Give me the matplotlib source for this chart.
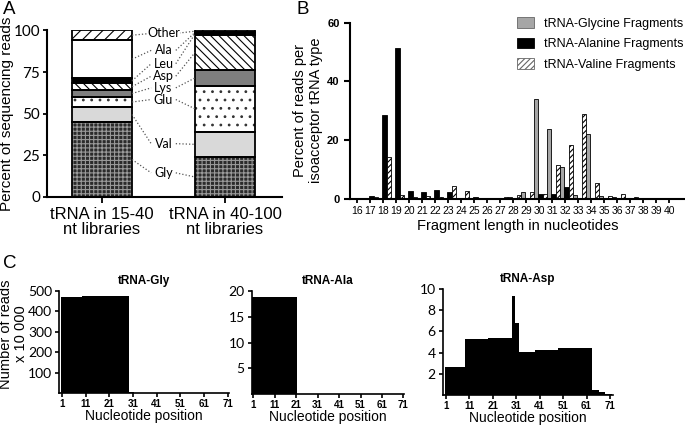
import numpy as np
import matplotlib.pyplot as plt
from matplotlib.patches import Patch

plt.rcParams['font.family'] = ['Liberation Sans', 'DejaVu Sans']
plt.rcParams['hatch.linewidth'] = 0.8

# ---- panel A data: stacked percent per tRNA type ----
groups = ['tRNA in 15-40\nnt libraries', 'tRNA in 40-100\nnt libraries']
trna_types = ['Gly', 'Val', 'Glu', 'Lys', 'Asp', 'Leu', 'Ala', 'Other']
lib_15_40 = [45.0, 9.0, 6.0, 4.2, 4.0, 3.0, 23.0, 5.8]
lib_40_100 = [24.0, 15.2, 27.5, 9.5, 21.0, 1.3, 0.5, 1.0]
label_y = [14.5, 32.0, 58.5, 65.5, 72.5, 80.0, 88.0, 98.2]

# ---- panel B data: fragment length distributions ----
frag_len = list(range(16, 41))
gly_frag = [0, 0, 0, 0, 0, 0, 0.3, 0, 0, 0, 0.3, 0.3, 0.8, 2.3, 34.0, 23.8,
            10.8, 1.2, 22.2, 1.0, 0.5, 0.3, 0.2, 0.1, 0]
ala_frag = [0, 1.0, 28.5, 51.2, 2.6, 2.3, 3.0, 2.5, 0.2, 0.5, 0.2, 0.3, 0.2,
            0.3, 1.8, 1.6, 4.2, 0.3, 0.2, 0.2, 0.1, 0.2, 0.2, 0, 0]
val_frag = [0, 0.7, 14.2, 1.2, 0.6, 1.0, 0.6, 4.3, 2.6, 0.3, 0.3, 0.5, 1.3,
            2.4, 1.6, 11.7, 18.5, 29.0, 5.4, 1.0, 1.6, 0.5, 0.2, 0.1, 0]

# ---- panel C data: read coverage along the tRNA ----
gly_edges = [0.5, 9.5, 29.5, 31.5, 71.5]
gly_reads = [470, 476, 5, 1]
ala_edges = [0.5, 21.5, 71.5]
ala_reads = [18.7, 0.1]
asp_edges = [0.5, 9.0, 19.0, 29.0, 30.4, 32.2, 39.0, 49.0, 63.3, 66.3, 69.0, 72.0]
asp_reads = [2.6, 5.3, 5.4, 9.3, 6.8, 4.1, 4.2, 4.4, 0.45, 0.3, 0.05]

fig = plt.figure(figsize=(6.85, 4.25), dpi=100)


def clean(ax, lw=1.3):
    ax.spines['top'].set_visible(False)
    ax.spines['right'].set_visible(False)
    ax.spines['left'].set_linewidth(lw)
    ax.spines['bottom'].set_linewidth(lw)


# ================= A =================
axA = fig.add_axes([0.0686, 0.5365, 0.343, 0.392])
clean(axA, 1.5)
styles = {
    'Gly': dict(fc='#2b2b2b', hatch='++++', hc='#9a9a9a'),
    'Val': dict(fc='#d9d9d9', hatch=None, hc='k'),
    'Glu': dict(fc='white', hatch='..', hc='#333333'),
    'Lys': dict(fc='#7f7f7f', hatch=None, hc='k'),
    'Asp': dict(fc='white', hatch='\\\\\\\\', hc='k'),
    'Leu': dict(fc='black', hatch=None, hc='k'),
    'Ala': dict(fc='white', hatch=None, hc='k'),
    'Other': dict(fc='white', hatch='///', hc='k'),
}
bw = 0.488
xs = [0, 1]
for xi, vals in zip(xs, [lib_15_40, lib_40_100]):
    bottom = 0
    for name, v in zip(trna_types, vals):
        st = styles[name]
        axA.bar(xi, v, bw, bottom=bottom, color=st['fc'], hatch=st['hatch'],
                edgecolor=st['hc'], linewidth=0, zorder=2)
        axA.bar(xi, v, bw, bottom=bottom, fill=False, edgecolor='black',
                linewidth=1.3, zorder=3)
        bottom += v

# labels with dotted connectors
cum1 = np.cumsum([0] + lib_15_40)
cum2 = np.cumsum([0] + lib_40_100)
lx = 0.5
for i, name in enumerate(trna_types):
    ly = label_y[i]
    axA.text(lx, ly, name, ha='center', va='center', fontsize=9,
             family=['Lato', 'DejaVu Sans'], zorder=5,
             bbox=dict(fc='white', ec='none', pad=0))
    m1 = (cum1[i] + cum1[i + 1]) / 2
    m2 = (cum2[i] + cum2[i + 1]) / 2
    axA.plot([xs[0] + bw / 2, lx - 0.1], [m1, ly], ls=':', color='#555555',
             lw=0.9, zorder=4)
    axA.plot([lx + 0.1, xs[1] - bw / 2], [ly, m2], ls=':', color='#555555',
             lw=0.9, zorder=4)
axA.set_xlim(-0.447, 1.463)
axA.set_ylim(0, 100)
axA.set_yticks([0, 25, 50, 75, 100])
axA.set_xticks(xs)
axA.set_xticklabels(groups, fontsize=12, linespacing=1.05)
axA.tick_params(axis='x', length=4, width=1.3, pad=3)
axA.tick_params(axis='y', length=3, width=1.3, labelsize=11, pad=2)
for t in axA.get_yticklabels():
    t.set_family(['Lato', 'DejaVu Sans'])
axA.set_ylabel('Percent of sequencing reads', fontsize=11)
axA.yaxis.set_label_coords(-0.142, 0.5)

# ================= B =================
axB = fig.add_axes([0.511, 0.532, 0.489, 0.415])
clean(axB, 1.5)
x = np.array(frag_len)
w = 0.33
axB.bar(x - 0.25, gly_frag, w, color='#a6a6a6', edgecolor='black', linewidth=0.6,
        label='tRNA-Glycine Fragments')
axB.bar(x + 0.08, ala_frag, w, color='black', edgecolor='black', linewidth=0.6,
        label='tRNA-Alanine Fragments')
axB.bar(x + 0.41, val_frag, w, color='white', edgecolor='black', linewidth=0.6,
        hatch='//////', label='tRNA-Valine Fragments')
axB.set_xlim(15.44, 41.2)
axB.set_ylim(0, 60)
axB.set_xticks(frag_len)
axB.set_yticks([0, 20, 40, 60])
axB.tick_params(axis='x', labelsize=7.5, length=3, width=1.3, pad=2)
axB.tick_params(axis='y', labelsize=8, length=4, width=1.5)
for t in axB.get_yticklabels():
    t.set_fontweight('bold')
axB.set_xlabel('Fragment length in nucleotides', fontsize=10.5, labelpad=2)
axB.set_ylabel('Percent of reads per\nisoacceptor tRNA type', fontsize=10.5,
               labelpad=3)
handles = [Patch(fc='#a6a6a6', ec='#666666', lw=0.6),
           Patch(fc='black', ec='black', lw=0.6),
           Patch(fc='white', ec='#666666', hatch='//////', lw=0.6)]
axB.legend(handles, ['tRNA-Glycine Fragments', 'tRNA-Alanine Fragments',
                     'tRNA-Valine Fragments'],
           loc='upper right', bbox_to_anchor=(1.03, 1.094), frameon=False,
           fontsize=9, handlelength=1.36, handleheight=0.9, labelspacing=0.65,
           handletextpad=0.8)


# ================= C =================
def cov_panel(rect, edges, vals, title, ymax, yticks, xlim):
    ax = fig.add_axes(rect)
    clean(ax, 1.2)
    ax.stairs(vals, edges, fill=True, color='black', baseline=0)
    ax.set_xlim(*xlim)
    ax.set_ylim(0, ymax)
    ax.set_yticks(yticks)
    ax.set_xticks(range(1, 72, 10))
    ax.tick_params(axis='x', labelsize=7, length=3, width=1.2, pad=1)
    ax.tick_params(axis='y', labelsize=10, length=3, width=1.2, pad=2)
    for t in ax.get_xticklabels():
        t.set_fontweight('bold')
    for t in ax.get_yticklabels():
        t.set_family(['Lato', 'DejaVu Sans'])
    ax.set_title(title, fontsize=8.5, fontweight='bold', pad=5)
    ax.set_xlabel('Nucleotide position', fontsize=10, labelpad=0)
    return ax


axC1 = cov_panel([0.0861, 0.0746, 0.248, 0.2414], gly_edges, gly_reads,
                 'tRNA-Gly', 500, [100, 200, 300, 400, 500], (-0.3, 71.5))
axC1.set_ylabel('Number of reads\nx 10 000', fontsize=10.5, linespacing=1.1)
axC1.yaxis.set_label_coords(-0.18, 0.58)
cov_panel([0.3675, 0.0722, 0.2223, 0.2438], ala_edges, ala_reads,
          'tRNA-Ala', 20, [5, 10, 15, 20], (0.25, 71.3))
cov_panel([0.6463, 0.0706, 0.2486, 0.2494], asp_edges, asp_reads,
          'tRNA-Asp', 10, [2, 4, 6, 8, 10], (-0.41, 72.3))

# panel letters
fig.text(0.004, 0.997, 'A', fontsize=13.5, va='top')
fig.text(0.433, 0.997, 'B', fontsize=13.5, va='top')
fig.text(0.004, 0.4, 'C', fontsize=13.5, va='top')

fig.savefig('out.png', dpi=100)
